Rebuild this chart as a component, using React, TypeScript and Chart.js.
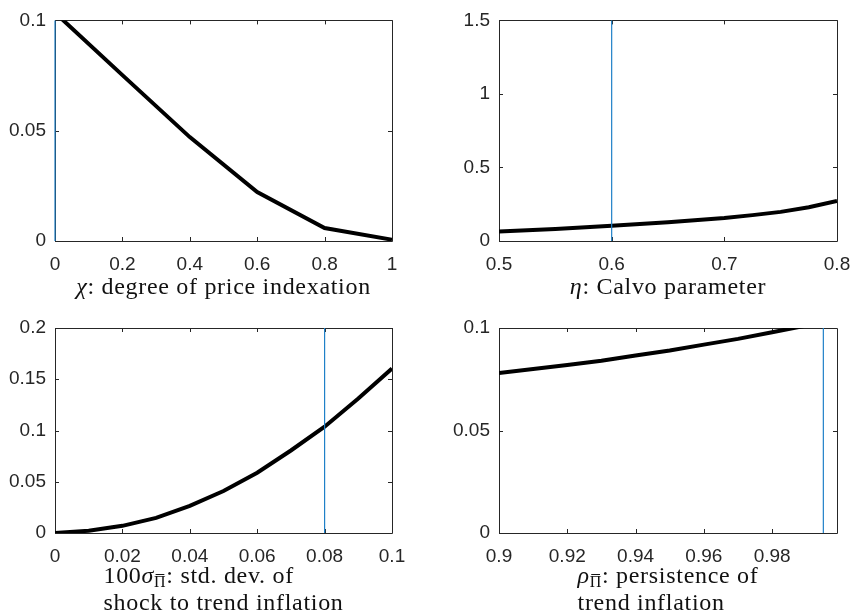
import React, { useEffect, useRef } from "react";
import { Chart, registerables } from "chart.js";

Chart.register(...registerables);

// ---------- data ----------
// Panel 1: chi, degree of price indexation
const chiX = [0, 0.2, 0.4, 0.6, 0.8, 1];
const chiY = [0.1035, 0.0752, 0.0471, 0.0222, 0.0059, 0.0006];
const chiMarker = 0;
const chiXTicks = [0, 0.2, 0.4, 0.6, 0.8, 1];
const chiYTicks = [0, 0.05, 0.1];

// Panel 2: eta, Calvo parameter
const etaX = [0.5, 0.55, 0.6, 0.65, 0.7, 0.725, 0.75, 0.775, 0.8];
const etaY = [0.064, 0.082, 0.103, 0.128, 0.157, 0.176, 0.198, 0.229, 0.272];
const etaMarker = 0.6;
const etaXTicks = [0.5, 0.6, 0.7, 0.8];
const etaYTicks = [0, 0.5, 1, 1.5];

// Panel 3: 100 sigma, std. dev. of shock to trend inflation
const sigX = [0, 0.01, 0.02, 0.03, 0.04, 0.05, 0.06, 0.07, 0.08, 0.09, 0.1];
const sigY = [0, 0.0022, 0.007, 0.0148, 0.0264, 0.041, 0.0588, 0.0805, 0.1037, 0.1313, 0.1604];
const sigMarker = 0.08;
const sigXTicks = [0, 0.02, 0.04, 0.06, 0.08, 0.1];
const sigYTicks = [0, 0.05, 0.1, 0.15, 0.2];

// Panel 4: rho, persistence of trend inflation
const rhoX = [0.9, 0.92, 0.93, 0.94, 0.95, 0.96, 0.97, 0.98, 0.99];
const rhoY = [0.078, 0.082, 0.084, 0.0866, 0.089, 0.0919, 0.0947, 0.0979, 0.1012];
const rhoMarker = 0.995;
const rhoXTicks = [0.9, 0.92, 0.94, 0.96, 0.98];
const rhoYTicks = [0, 0.05, 0.1];

// ---------- types ----------
type Seg = { t: string; it?: boolean; sub?: boolean; bar?: boolean };

type PanelSpec = {
  xs: number[];
  ys: number[];
  marker: number;
  xMin: number;
  xMax: number;
  yMin: number;
  yMax: number;
  xTicks: number[];
  yTicks: number[];
  label: Seg[][];
  labelOffset: number;
  pos: { left: number; top: number };
  area: { l: number; t: number; r: number; b: number };
};

const CW = 460;
const CH = 307;
const AXIS = "#262626";
const TICK_FONT = { family: '"Liberation Sans", Arial, sans-serif', size: 19 };

const panels: PanelSpec[] = [
  {
    xs: chiX, ys: chiY, marker: chiMarker,
    xMin: 0, xMax: 1, yMin: 0, yMax: 0.1,
    xTicks: chiXTicks, yTicks: chiYTicks,
    label: [[{ t: "χ", it: true }, { t: ": degree of price indexation" }]],
    labelOffset: 53,
    pos: { left: 0, top: 0 },
    area: { l: 55, t: 20, r: 392, b: 241 },
  },
  {
    xs: etaX, ys: etaY, marker: etaMarker,
    xMin: 0.5, xMax: 0.8, yMin: 0, yMax: 1.5,
    xTicks: etaXTicks, yTicks: etaYTicks,
    label: [[{ t: "η", it: true }, { t: ": Calvo parameter" }]],
    labelOffset: 53,
    pos: { left: 425, top: 0 },
    area: { l: 74, t: 20, r: 412, b: 241 },
  },
  {
    xs: sigX, ys: sigY, marker: sigMarker,
    xMin: 0, xMax: 0.1, yMin: 0, yMax: 0.2,
    xTicks: sigXTicks, yTicks: sigYTicks,
    label: [
      [{ t: "100" }, { t: "σ", it: true }, { t: "Π", sub: true, bar: true }, { t: ": std. dev. of" }],
      [{ t: "shock to trend inflation" }],
    ],
    labelOffset: 50,
    pos: { left: 0, top: 307 },
    area: { l: 55, t: 21, r: 392, b: 226 },
  },
  {
    xs: rhoX, ys: rhoY, marker: rhoMarker,
    xMin: 0.9, xMax: 0.999, yMin: 0, yMax: 0.1,
    xTicks: rhoXTicks, yTicks: rhoYTicks,
    label: [
      [{ t: "ρ", it: true }, { t: "Π", sub: true, bar: true }, { t: ": persistence of" }],
      [{ t: "trend inflation" }],
    ],
    labelOffset: 50,
    pos: { left: 425, top: 307 },
    area: { l: 74, t: 21, r: 412, b: 226 },
  },
];

const fmt = (v: number) => String(Number(v.toFixed(6)));

function drawRich(ctx: CanvasRenderingContext2D, lines: Seg[][], cx: number, y0: number, gap: number) {
  const F = 24;
  const SF = 16;
  const fam = '"Liberation Serif", "Times New Roman", serif';
  const fontOf = (s: Seg) => (s.sub ? `${SF}px ${fam}` : `${s.it ? "italic " : ""}${F}px ${fam}`);
  ctx.save();
  (ctx as any).letterSpacing = "0.7px";
  const widths = lines.map((line) =>
    line.reduce((w, s) => {
      ctx.font = fontOf(s);
      return w + ctx.measureText(s.t).width;
    }, 0)
  );
  const blockW = Math.max(...widths);
  const left = cx - blockW / 2;
  ctx.fillStyle = "#111";
  ctx.strokeStyle = "#111";
  ctx.textAlign = "left";
  ctx.textBaseline = "alphabetic";
  lines.forEach((line, i) => {
    let x = left;
    const by = y0 + i * gap;
    line.forEach((s) => {
      ctx.font = fontOf(s);
      const w = ctx.measureText(s.t).width;
      const yy = s.sub ? by + 4 : by;
      ctx.fillText(s.t, x, yy);
      if (s.bar) {
        ctx.lineWidth = 1;
        ctx.beginPath();
        ctx.moveTo(x + 1.5, yy - SF * 0.78);
        ctx.lineTo(x + w - 2, yy - SF * 0.78);
        ctx.stroke();
      }
      x += w;
    });
  });
  ctx.restore();
}

function Panel({ spec }: { spec: PanelSpec }) {
  const ref = useRef<HTMLCanvasElement | null>(null);
  useEffect(() => {
    const canvas = ref.current;
    if (!canvas) return;
    const { area } = spec;

    const framePlugin = {
      id: "frame",
      beforeDatasetsDraw(chart: any) {
        const ctx = chart.ctx as CanvasRenderingContext2D;
        const a = chart.chartArea;
        const xs = chart.scales.x;
        const ys = chart.scales.y;
        const TL = 4;
        ctx.save();
        ctx.strokeStyle = AXIS;
        ctx.lineWidth = 1;
        ctx.beginPath();
        ctx.rect(Math.round(a.left) + 0.5, Math.round(a.top) + 0.5, Math.round(a.right - a.left), Math.round(a.bottom - a.top));
        ctx.stroke();
        ctx.beginPath();
        spec.xTicks.forEach((v) => {
          const px = Math.round(xs.getPixelForValue(v)) + 0.5;
          ctx.moveTo(px, a.bottom);
          ctx.lineTo(px, a.bottom - TL);
          ctx.moveTo(px, a.top);
          ctx.lineTo(px, a.top + TL);
        });
        spec.yTicks.forEach((v) => {
          const py = Math.round(ys.getPixelForValue(v)) + 0.5;
          ctx.moveTo(a.left, py);
          ctx.lineTo(a.left + TL, py);
          ctx.moveTo(a.right, py);
          ctx.lineTo(a.right - TL, py);
        });
        ctx.stroke();
        ctx.restore();
      },
    };

    const labelPlugin = {
      id: "xlabel",
      afterDraw(chart: any) {
        const a = chart.chartArea;
        drawRich(chart.ctx, spec.label, (a.left + a.right) / 2, a.bottom + spec.labelOffset, 27);
      },
    };

    const chart = new Chart(canvas, {
      type: "line",
      data: {
        datasets: [
          {
            data: [
              { x: spec.marker, y: spec.yMin },
              { x: spec.marker, y: spec.yMax },
            ],
            borderColor: "#1f80c8",
            borderWidth: 1.2,
            pointRadius: 0,
            clip: false as any,
            order: 0,
          },
          {
            data: spec.xs.map((x, i) => ({ x, y: spec.ys[i] })),
            borderColor: "#000000",
            borderWidth: 4,
            pointRadius: 0,
            tension: 0,
            clip: 0 as any,
            order: 1,
          },
        ],
      },
      options: {
        responsive: false,
        maintainAspectRatio: false,
        devicePixelRatio: 1,
        animation: false,
        events: [],
        layout: {
          padding: { left: 0, top: area.t, right: CW - area.r, bottom: 0 },
        },
        plugins: { legend: { display: false }, tooltip: { enabled: false } },
        scales: {
          x: {
            type: "linear",
            min: spec.xMin,
            max: spec.xMax,
            grid: { display: false, drawTicks: false },
            border: { display: false },
            afterBuildTicks: (s: any) => {
              s.ticks = spec.xTicks.map((v) => ({ value: v }));
            },
            afterFit: (s: any) => {
              s.height = CH - area.b;
            },
            ticks: {
              autoSkip: false,
              maxRotation: 0,
              padding: 12,
              color: AXIS,
              font: TICK_FONT,
              callback: (v: any) => fmt(Number(v)),
            },
          },
          y: {
            type: "linear",
            min: spec.yMin,
            max: spec.yMax,
            grid: { display: false, drawTicks: false },
            border: { display: false },
            afterBuildTicks: (s: any) => {
              s.ticks = spec.yTicks.map((v) => ({ value: v }));
            },
            afterFit: (s: any) => {
              s.width = area.l;
            },
            ticks: {
              autoSkip: false,
              padding: 9,
              color: AXIS,
              font: TICK_FONT,
              callback: (v: any) => fmt(Number(v)),
            },
          },
        },
      },
      plugins: [framePlugin, labelPlugin],
    });
    return () => chart.destroy();
  }, [spec]);

  return (
    <canvas
      ref={ref}
      width={CW}
      height={CH}
      style={{ position: "absolute", left: spec.pos.left, top: spec.pos.top, width: CW, height: CH }}
    />
  );
}

export default function App() {
  return (
    <div
      style={{
        position: "fixed",
        left: 0,
        top: 0,
        width: 850,
        height: 614,
        overflow: "hidden",
        background: "#ffffff",
      }}
    >
      {panels.map((p, i) => (
        <Panel key={i} spec={p} />
      ))}
    </div>
  );
}
